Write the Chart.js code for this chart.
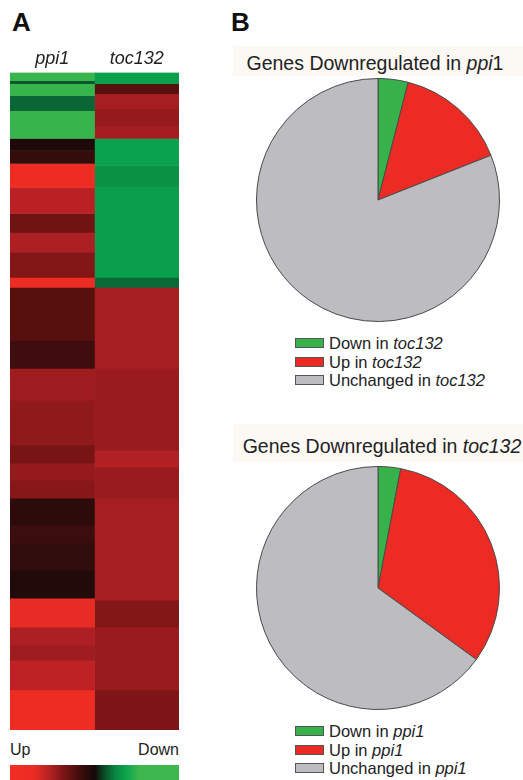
<!DOCTYPE html>
<html>
<head>
<meta charset="utf-8">
<script src="https://cdn.jsdelivr.net/npm/chart.js@4"></script>
<style>
  html, body { margin: 0; padding: 0; background: #fff; }
  body { width: 523px; height: 780px; position: relative; overflow: hidden;
         font-family: "Liberation Sans", Arial, sans-serif; color: #222; }
  .abs { position: absolute; }
  .panel { font-weight: bold; font-size: 26px; color: #111; }
  .title-box { background: #fcf8f4; }
  .title { font-size: 19.5px; white-space: nowrap; text-align: center; }
  .legend { font-size: 16.5px; line-height: 18.5px; }
  .legend .row { display: flex; align-items: center; white-space: nowrap; }
  .legend .sw { width: 27px; height: 8px; border: 1px solid #555; margin-right: 5px; }
  .scale-lbl { font-size: 16px; }
</style>
</head>
<body>
<div class="abs panel" style="left:12px; top:7px;">A</div>
<div class="abs panel" style="left:231px; top:7px;">B</div>

<div class="abs" style="left:10px; top:45px; width:169px; height:685px;"><canvas id="heat"></canvas></div>

<div class="abs scale-lbl" style="left:10px; top:741px;">Up</div>
<div class="abs scale-lbl" style="left:120px; width:59px; top:741px; text-align:right;">Down</div>
<div class="abs" id="scaleBar" style="left:10px; top:765px; width:169px; height:15px;"></div>

<div class="abs title-box" style="left:233px; top:46px; width:290px; height:30px;"></div>
<div class="abs title" style="left:230px; width:290px; top:52px;">Genes Downregulated in <i>ppi</i>1</div>
<div class="abs" style="left:256px; top:78px; width:244px; height:244px;"><canvas id="pie1"></canvas></div>
<div class="abs legend" id="leg1" style="left:295px; top:334px;"></div>

<div class="abs title-box" style="left:233px; top:424px; width:290px; height:38px;"></div>
<div class="abs title" style="left:237px; width:290px; top:435px;">Genes Downregulated in <i>toc132</i></div>
<div class="abs" style="left:256px; top:466px; width:244px; height:244px;"><canvas id="pie2"></canvas></div>
<div class="abs legend" id="leg2" style="left:295px; top:722px;"></div>

<script>
// Heat map: gene clusters per genotype, listed top to bottom.
// Genes = number of genes in each cluster, Ratio = expression (+1 up ... -1 down).
const genotypes = ['ppi1', 'toc132'];

const ppi1Genes = [8, 3, 12, 15, 28, 12, 13, 24, 26, 19, 20, 25, 10, 53, 28, 32, 45, 18, 17, 18, 27, 18, 27, 28, 29, 18, 15, 30, 40];
const ppi1Ratio = [-0.92, -0.4, -0.9, -0.48, -0.9, 0.04, 0.16, 0.96, 0.74, 0.42, 0.68, 0.5, 0.96, 0.3, 0.2, 0.62, 0.56, 0.45, 0.58, 0.52, 0.13, 0.19, 0.14, 0.07, 0.93, 0.68, 0.62, 0.76, 0.96];

const toc132Genes = [11, 10, 15, 17, 13, 27, 22, 90, 10, 81, 82, 17, 31, 102, 27, 63, 40];
const toc132Ratio = [-0.78, 0.3, 0.66, 0.58, 0.64, -0.8, -0.7, -0.79, -0.5, 0.66, 0.6, 0.7, 0.6, 0.66, 0.5, 0.6, 0.48];

// Colour key: ratio shown at each fraction of the key's width (left = up, right = down).
const keyPos = [0, 0.14, 0.24, 0.33, 0.42, 0.5, 0.56, 0.62, 0.68, 0.77, 1];
const keyRatio = [1, 0.95, 0.7, 0.42, 0.18, 0, -0.35, -0.62, -0.8, -1, -1];

// Pie charts: share of genes (%) in each response class.
const pie1Labels = ['Down in toc132', 'Up in toc132', 'Unchanged in toc132'];
const pie1Values = [4, 15, 81];
const pie2Labels = ['Down in ppi1', 'Up in ppi1', 'Unchanged in ppi1'];
const pie2Values = [3, 32, 65];

// Colour scale: black at 0, red for up, green for down.
const redStops = [[0, [22, 8, 8]], [0.15, [50, 12, 12]], [0.3, [88, 16, 14]], [0.45, [120, 20, 20]],
  [0.55, [142, 24, 26]], [0.65, [165, 30, 34]], [0.75, [188, 33, 37]], [0.85, [214, 40, 37]],
  [0.95, [236, 44, 36]], [1, [240, 46, 36]]];
const greenStops = [[0, [22, 8, 8]], [0.35, [10, 78, 40]], [0.5, [10, 106, 55]], [0.65, [10, 138, 66]],
  [0.8, [10, 162, 76]], [0.9, [55, 180, 76]], [1, [62, 184, 78]]];

function colourFor(v) {
  const stops = v >= 0 ? redStops : greenStops;
  const a = Math.min(1, Math.abs(v));
  for (let i = 1; i < stops.length; i++) {
    if (a <= stops[i][0]) {
      const [p0, c0] = stops[i - 1], [p1, c1] = stops[i];
      const t = (a - p0) / (p1 - p0);
      const c = c0.map((x, k) => Math.round(x + (c1[k] - x) * t));
      return `rgb(${c[0]},${c[1]},${c[2]})`;
    }
  }
  const c = stops[stops.length - 1][1];
  return `rgb(${c[0]},${c[1]},${c[2]})`;
}

const FONT = '"Liberation Sans", Arial, sans-serif';
Chart.defaults.font.family = FONT;
Chart.defaults.animation = false;

// One stacked segment per cluster; each sits in its own genotype column.
const heatDatasets = [];
ppi1Genes.forEach((n, i) => heatDatasets.push({
  data: [n, null], backgroundColor: colourFor(ppi1Ratio[i]), borderWidth: 0,
  barPercentage: 1, categoryPercentage: 1
}));
toc132Genes.forEach((n, i) => heatDatasets.push({
  data: [null, n], backgroundColor: colourFor(toc132Ratio[i]), borderWidth: 0,
  barPercentage: 1, categoryPercentage: 1
}));
const totalGenes = ppi1Genes.reduce((s, x) => s + x, 0);

new Chart(document.getElementById('heat'), {
  type: 'bar',
  data: { labels: genotypes, datasets: heatDatasets },
  options: {
    responsive: true, maintainAspectRatio: false,
    layout: { padding: 0 },
    plugins: { legend: { display: false }, tooltip: { enabled: false } },
    scales: {
      x: {
        stacked: true, position: 'top',
        grid: { display: false, drawTicks: false }, border: { display: false },
        ticks: { color: '#222', padding: 3, maxRotation: 0, font: { size: 18, style: 'italic', family: FONT } }
      },
      y: { stacked: true, reverse: true, min: 0, max: totalGenes, display: false }
    }
  }
});

// Colour key under the heat map, sampled from the same scale.
document.getElementById('scaleBar').style.background =
  'linear-gradient(to right, ' +
  keyPos.map((p, i) => `${colourFor(keyRatio[i])} ${(p * 100).toFixed(1)}%`).join(', ') + ')';

const pieColours = ['#37b24a', '#ec2c24', '#bcbcc1'];

function makePie(id, labels, values, legendId) {
  new Chart(document.getElementById(id), {
    type: 'pie',
    data: {
      labels: labels,
      datasets: [{ data: values, backgroundColor: pieColours, borderColor: '#4a4a4a', borderWidth: 1 }]
    },
    options: {
      responsive: true, maintainAspectRatio: false,
      layout: { padding: 0 },
      plugins: { legend: { display: false }, tooltip: { enabled: false } }
    }
  });
  const leg = document.getElementById(legendId);
  labels.forEach((lab, i) => {
    const row = document.createElement('div');
    row.className = 'row';
    const sw = document.createElement('span');
    sw.className = 'sw';
    sw.style.background = pieColours[i];
    const txt = document.createElement('span');
    const m = lab.match(/^(.*in )(\S+)$/);
    txt.innerHTML = m ? `${m[1]}<i>${m[2]}</i>` : lab;
    row.appendChild(sw);
    row.appendChild(txt);
    leg.appendChild(row);
  });
}

makePie('pie1', pie1Labels, pie1Values, 'leg1');
makePie('pie2', pie2Labels, pie2Values, 'leg2');
</script>
</body>
</html>
